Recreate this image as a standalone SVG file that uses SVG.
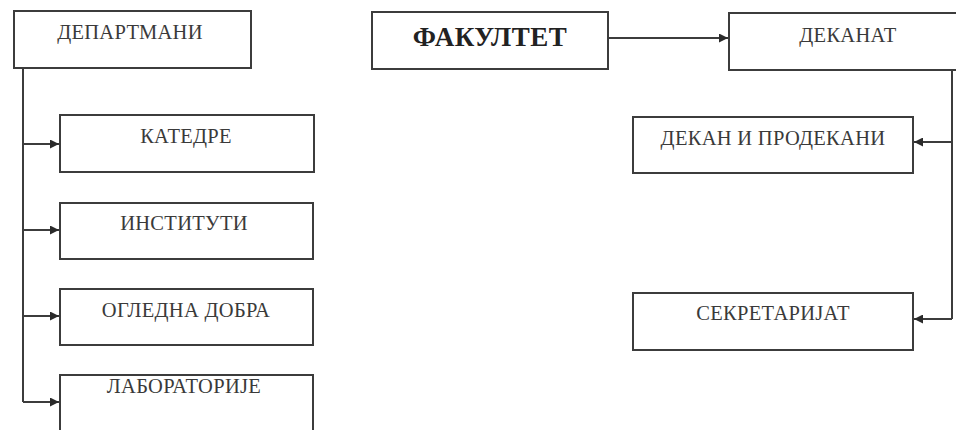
<svg xmlns="http://www.w3.org/2000/svg" width="956" height="430" viewBox="0 0 956 430">
<defs>
<style>
.box{fill:#fff;stroke:#3c3c3c;stroke-width:2}
.t{font-family:"Liberation Serif","Times New Roman",serif;font-size:20.5px;fill:#3a3a3a;text-anchor:middle;letter-spacing:0.3px}
.b{font-weight:bold;font-size:27px;fill:#222;letter-spacing:0.5px}
.ln{fill:none;stroke:#3c3c3c;stroke-width:2}
</style>
<marker id="ah" viewBox="0 0 10 10" refX="10" refY="5" markerWidth="11" markerHeight="9" markerUnits="userSpaceOnUse" orient="auto">
<path d="M0,0 L10,5 L0,10 z" fill="#2a2a2a"/>
</marker>
</defs>
<rect width="956" height="430" fill="#fff"/>
<g id="connectors">
<path class="ln" d="M23,68 V402"/>
<path class="ln" d="M23,144 H59" marker-end="url(#ah)"/>
<path class="ln" d="M23,230 H59" marker-end="url(#ah)"/>
<path class="ln" d="M23,316 H59" marker-end="url(#ah)"/>
<path class="ln" d="M23,402 H59" marker-end="url(#ah)"/>
<path class="ln" d="M608,38 H728" marker-end="url(#ah)"/>
<path class="ln" d="M952,70 V319"/>
<path class="ln" d="M952,142 H914" marker-end="url(#ah)"/>
<path class="ln" d="M952,319 H914" marker-end="url(#ah)"/>
</g>
<g id="departmani"><rect class="box" x="14" y="11" width="237" height="57"/><text class="t" x="130" y="39">ДЕПАРТМАНИ</text></g>
<g id="katedre"><rect class="box" x="60" y="115" width="254" height="57"/><text class="t" x="186" y="143">КАТЕДРЕ</text></g>
<g id="instituti"><rect class="box" x="60" y="203" width="253" height="56"/><text class="t" x="184" y="230">ИНСТИТУТИ</text></g>
<g id="ogledna"><rect class="box" x="60" y="289" width="253" height="56"/><text class="t" x="186" y="317">ОГЛЕДНА ДОБРА</text></g>
<g id="laboratorije"><rect class="box" x="60" y="375" width="253" height="60"/><text class="t" x="184" y="393">ЛАБОРАТОРИЈЕ</text></g>
<g id="fakultet"><rect class="box" x="372" y="12" width="236" height="57"/><text class="t b" x="490" y="46">ФАКУЛТЕТ</text></g>
<g id="dekanat"><rect class="box" x="729" y="13" width="240" height="57"/><text class="t" x="848" y="42">ДЕКАНАТ</text></g>
<g id="dekan"><rect class="box" x="633" y="117" width="280" height="56"/><text class="t" x="773" y="145">ДЕКАН И ПРОДЕКАНИ</text></g>
<g id="sekretarijat"><rect class="box" x="633" y="293" width="280" height="57"/><text class="t" x="773" y="320">СЕКРЕТАРИЈАТ</text></g>
</svg>
